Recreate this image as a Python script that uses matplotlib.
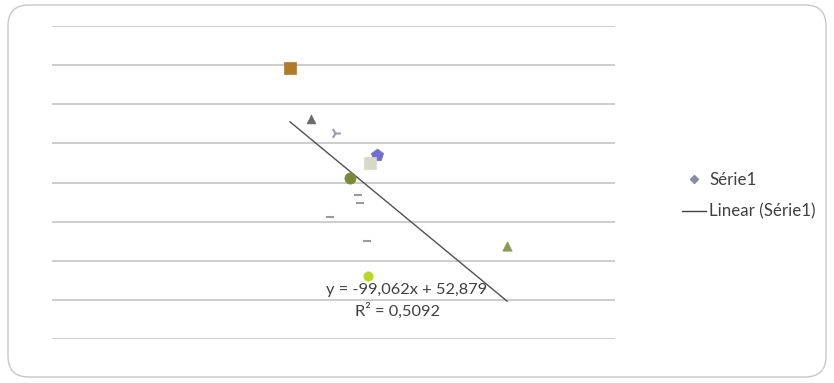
import matplotlib
matplotlib.use("Agg")
import matplotlib.pyplot as plt
from matplotlib.patches import FancyBboxPatch
from matplotlib.lines import Line2D
import numpy as np

plt.rcParams['font.family'] = ['Lato', 'DejaVu Sans']

# data
x_vals = [0.2536, 0.276, 0.3016, 0.3464, 0.339, 0.3176, 0.326, 0.328, 0.2963, 0.3357, 0.485, 0.3368]
y_vals = [34.6, 28.1, 26.3, 23.5, 22.5, 20.6, 18.4, 17.4, 15.6, 12.5, 11.9, 8.1]
slope = -99.062
intercept = 52.879
r2 = 0.5092
series_name = "Série1"
trend_name = "Linear (Série1)"
eq_text = "y = -99,062x + 52,879"
r2_text = "R² = 0,5092"

# per-point styles (Excel "vary colours by point")
markers = ['s', '^', '4', 'p', 's', 'o', '_', '_', '_', '_', '^', 'o']
colors = ['#b07a2a', '#6a6a6a', '#9a9ab8', '#6f6fd0', '#d8d8c8', '#7a8a3a',
          '#9a9a9a', '#9a9a9a', '#9a9a9a', '#9a9a9a', '#8a9a5a', '#b8d820']
sizes = [65, 40, 60, 85, 70, 65, 40, 40, 40, 40, 45, 45]

fig = plt.figure(figsize=(8.34, 3.83), dpi=100)
fig.patch.set_facecolor('white')

# chart border
border = FancyBboxPatch((8 / 834, 6 / 383), 818 / 834, 372 / 383,
                        boxstyle="round,pad=0,rounding_size=0.025",
                        transform=fig.transFigure, facecolor='none',
                        edgecolor='#c8c8c8', linewidth=1.0,
                        mutation_aspect=834 / 383, zorder=-1)
fig.patches.append(border)

ax = fig.add_axes([52 / 834, 44 / 383, 563 / 834, 313 / 383])
ax.set_facecolor('none')
ax.set_xlim(0, 0.6)
ax.set_ylim(0, 40)
ax.set_yticks(np.arange(0, 41, 5))
ax.grid(axis='y', color='#c0c0c0', linewidth=1.1)
ax.set_axisbelow(True)
for s in ax.spines.values():
    s.set_visible(False)
ax.tick_params(left=False, bottom=False, labelleft=False, labelbottom=False)

for xv, yv, m, c, sz in zip(x_vals, y_vals, markers, colors, sizes):
    lw = 1.5 if m in ('_', '4') else 0.5
    ax.scatter([xv], [yv], marker=m, s=sz, color=c, linewidths=lw, zorder=3)

xs = np.array([min(x_vals), max(x_vals)])
ax.plot(xs, slope * xs + intercept, color='#505050', linewidth=1.0, zorder=2)

ax.text(0.3783, 6.2, eq_text, fontsize=11.8, color='#404040', ha='center', va='center', zorder=4)
ax.text(0.3685, 3.6, r2_text, fontsize=11.8, color='#404040', ha='center', va='center', zorder=4)

handles = [
    Line2D([], [], marker='D', linestyle='none', color='#8a8aa8', markersize=4),
    Line2D([], [], color='#404040', linewidth=1.0),
]
fig.legend(handles, [series_name, trend_name], loc='center left',
           bbox_to_anchor=(667 / 834, 1 - 196 / 383), frameon=False,
           fontsize=12.2, labelcolor='#404040', handlelength=1.4,
           handletextpad=0.2, labelspacing=0.9)

fig.savefig('out.png', dpi=100, facecolor='white')
